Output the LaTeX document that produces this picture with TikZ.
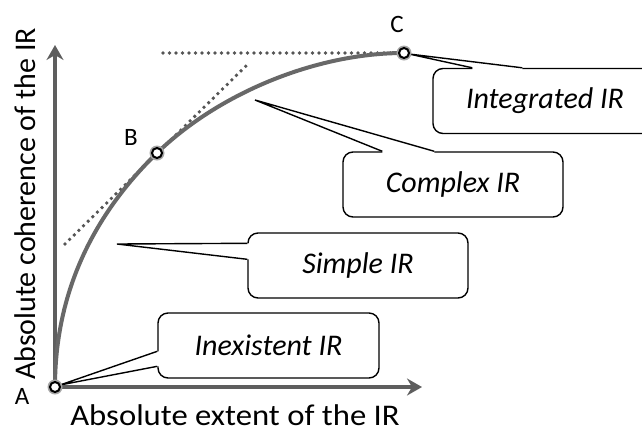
\documentclass[tikz,border=0pt]{standalone}
\usepackage{fontspec}
\setmainfont{Carlito}
\usetikzlibrary{arrows.meta,calc}
\definecolor{axisgray}{HTML}{5E5E5E}
\definecolor{curvegray}{HTML}{686868}
\definecolor{dotgray}{HTML}{555555}
\begin{document}
\begin{tikzpicture}[x=1pt,y=-1pt,
  axis/.style={draw=axisgray,line width=4pt,-{Stealth[length=15pt,width=17pt,inset=5pt]}},
  curveline/.style={draw=curvegray,line width=4pt,line cap=round},
  dotline/.style={draw=dotgray,line width=3.8pt,line cap=round,dash pattern=on 0pt off 6.5pt},
  callout/.style={draw=black,line width=1.4pt,fill=white,rounded corners=10pt,
    minimum width=220pt,minimum height=65pt,inner sep=0pt,
    font=\fontsize{30}{34}\selectfont\itshape},
  pointer/.style={draw=black,line width=1.4pt,line join=miter},
  ptmark/.style={circle,draw=black,fill=white,line width=2pt,minimum size=10pt,inner sep=0pt},
  pthalo/.style={circle,fill=gray!70,minimum size=15pt,inner sep=0pt},
  ptlabel/.style={font=\fontsize{25}{28}\selectfont,inner sep=0pt},
  axlabel/.style={font=\fontsize{30}{34}\selectfont,inner sep=0pt},
]
\clip (0,0) rectangle (642,432);
\fill[white] (0,0) rectangle (642,432);

% named points
\coordinate (A) at (55,387);
\coordinate (B) at (157,153);
\coordinate (C) at (404,53);
\coordinate (ytip) at (55,45);
\coordinate (xtip) at (422,387);
\coordinate (tanS) at (65,244);
\coordinate (tanE) at (248,64);
\coordinate (horS) at (163,53);
\coordinate (apxC) at (409,54);
\coordinate (apxCx) at (255,100);
\coordinate (apxS) at (117,244);
\coordinate (apxI) at (60,385);

% callout boxes
\node[callout,minimum width=224pt] (integ) at (545,101) {Integrated IR};
\node[callout] (cplx) at (453,184.5) {Complex IR};
\node[callout] (simp) at (358,265.5) {Simple IR};
\node[callout,minimum width=221pt] (inex) at (268.5,345.5) {Inexistent IR};

% pointers (wedges)
\fill[white] ($(integ.north west)+(40,0)$) -- (apxC) -- ($(integ.north west)+(90,0)$) -- ($(integ.north west)+(90,2)$) -- ($(integ.north west)+(40,2)$) -- cycle;
\draw[pointer] ($(integ.north west)+(40,0)$) -- (apxC) -- ($(integ.north west)+(90,0)$);

\fill[white] ($(cplx.north west)+(40,0)$) -- (apxCx) -- ($(cplx.north west)+(92,0)$) -- ($(cplx.north west)+(92,2)$) -- ($(cplx.north west)+(40,2)$) -- cycle;
\draw[pointer] ($(cplx.north west)+(40,0)$) -- (apxCx) -- ($(cplx.north west)+(92,0)$);

\fill[white] ($(simp.north west)+(0,11)$) -- (apxS) -- ($(simp.north west)+(0,27)$) -- ($(simp.north west)+(2,27)$) -- ($(simp.north west)+(2,11)$) -- cycle;
\draw[pointer] ($(simp.north west)+(0,11)$) -- (apxS) -- ($(simp.north west)+(0,27)$);

\fill[white] ($(inex.north west)+(0,39)$) -- (apxI) -- ($(inex.north west)+(0,54)$) -- ($(inex.north west)+(2,54)$) -- ($(inex.north west)+(2,39)$) -- cycle;
\draw[pointer] ($(inex.north west)+(0,39)$) -- (apxI) -- ($(inex.north west)+(0,54)$);

% axes
\draw[axis] (A) -- (ytip);
\draw[axis] (A) -- (xtip);

% dotted guide lines
\draw[dotline] (horS) -- (C);
\draw[dotline] (tanS) -- (tanE);

% curve
\draw[curveline] (A) .. controls (55,277) and (107,201.5) .. (B)
                     .. controls (217,94.8) and (314,53) .. (C);

% points
\foreach \p in {A,B,C} {
  \node[pthalo] at (\p) {};
  \node[ptmark] (m\p) at (\p) {};
}

% point labels
\node[ptlabel] (labA) at (22,396) {A};
\node[ptlabel] (labB) at (131,137) {B};
\node[ptlabel] (labC) at (397,24) {C};

% axis labels
\node[axlabel,anchor=base,xscale=1.09] (xlab) at (235,425) {Absolute extent of the IR};
\node[axlabel,anchor=base,rotate=90] (ylab) at (35,204) {Absolute coherence of the IR};
\end{tikzpicture}
\end{document}
